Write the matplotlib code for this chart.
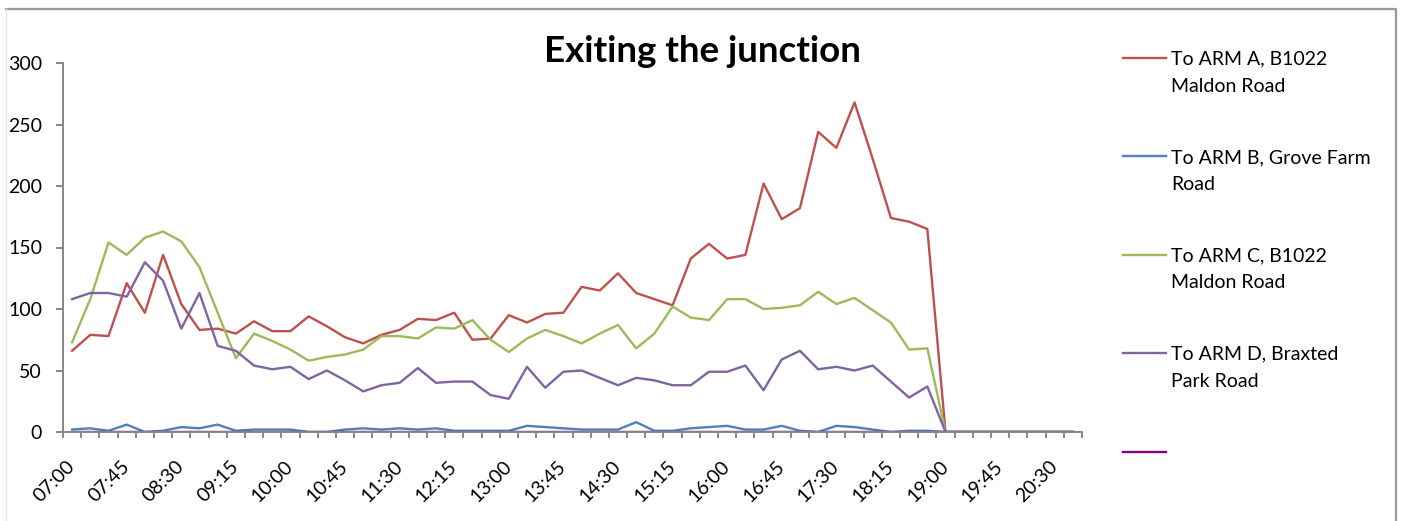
import matplotlib.pyplot as plt
import matplotlib.transforms as mtransforms
import numpy as np
from matplotlib.lines import Line2D

plt.rcParams["font.family"] = ["Lato", "DejaVu Sans"]

# 15-minute periods, 07:00 .. 20:45
times = ["%02d:%02d" % (7 + (i * 15) // 60, (i * 15) % 60) for i in range(56)]

arm_a = [66, 79, 78, 121, 97, 144, 104, 83, 84, 80, 90, 82, 82, 94, 86, 77,
         72, 79, 83, 92, 91, 97, 75, 76, 95, 89, 96, 97, 118, 115, 129, 113,
         108, 103, 141, 153, 141, 144, 202, 173, 182, 244, 231, 268, 222, 174,
         171, 165] + [0] * 8
arm_b = [2, 3, 1, 6, 0, 1, 4, 3, 6, 1, 2, 2, 2, 0, 0, 2,
         3, 2, 3, 2, 3, 1, 1, 1, 1, 5, 4, 3, 2, 2, 2, 8,
         1, 1, 3, 4, 5, 2, 2, 5, 1, 0, 5, 4, 2, 0,
         1, 1] + [0] * 8
arm_c = [73, 108, 154, 144, 158, 163, 155, 134, 97, 60, 80, 74, 67, 58, 61, 63,
         67, 78, 78, 76, 85, 84, 91, 75, 65, 76, 83, 78, 72, 80, 87, 68,
         80, 102, 93, 91, 108, 108, 100, 101, 103, 114, 104, 109, 99, 89,
         67, 68] + [0] * 8
arm_d = [108, 113, 113, 110, 138, 123, 84, 113, 70, 66, 54, 51, 53, 43, 50, 42,
         33, 38, 40, 52, 40, 41, 41, 30, 27, 53, 36, 49, 50, 44, 38, 44,
         42, 38, 38, 49, 49, 54, 34, 59, 66, 51, 53, 50, 54, 41,
         28, 37] + [0] * 8
blank = [0] * 56

series = [
    ("To ARM A, B1022\nMaldon Road", arm_a, "#C0504D"),
    ("To ARM B, Grove Farm\nRoad", arm_b, "#4F81BD"),
    ("To ARM C, B1022\nMaldon Road", arm_c, "#9BBB59"),
    ("To ARM D, Braxted\nPark Road", arm_d, "#8064A2"),
    ("", blank, "#800080"),
]

W, H = 1405, 521
fig = plt.figure(figsize=(W / 100, H / 100), dpi=100)


def fx(px):
    return px / W


def fy(py):
    return 1 - py / H


# chart area border (bottom edge is off the picture)
fig.add_artist(Line2D([fx(6), fx(1396), fx(1396)], [fy(9), fy(9), fy(530)],
                      transform=fig.transFigure, color="#9a9a9a", lw=1.6))
fig.add_artist(Line2D([fx(6), fx(6)], [fy(9), fy(530)],
                      transform=fig.transFigure, color="#e4e4e4", lw=1.0))

ax = fig.add_axes([fx(63), fy(432), fx(1082) - fx(63), fy(63) - fy(432)])
x = np.arange(len(times))
for label, vals, color in series:
    ax.plot(x, vals, color=color, lw=1.7)

ax.set_xlim(-0.5, len(times) - 0.5)
ax.set_ylim(0, 300)
ax.set_yticks(range(0, 301, 50))
ax.set_xticks(x[::3])
ax.set_xticklabels(times[::3], rotation=45, ha="right", va="center",
                   rotation_mode="anchor")
shift = mtransforms.ScaledTranslation(3 / 100, 0, fig.dpi_scale_trans)
for t in ax.get_xticklabels():
    t.set_transform(t.get_transform() + shift)
ax.set_xticks(np.arange(-0.5, len(times), 1), minor=True)
ax.tick_params(axis="x", which="major", length=0, pad=23, labelsize=14)
ax.tick_params(axis="x", which="minor", length=4.5, width=1.4, color="#868686")
ax.tick_params(axis="y", length=5, width=1.4, color="#868686", pad=10,
               labelsize=14)
for s in ["top", "right"]:
    ax.spines[s].set_visible(False)
for s in ["left", "bottom"]:
    ax.spines[s].set_color("#868686")
    ax.spines[s].set_linewidth(1.4)

fig.text(fx(702), fy(62), "Exiting the junction", ha="center", va="baseline",
         fontsize=26.5, fontweight="bold")

# legend, one entry per series
for k, (label, vals, color) in enumerate(series):
    ly = 58 + k * 98.4
    fig.add_artist(Line2D([fx(1123), fx(1166)], [fy(ly), fy(ly)],
                          transform=fig.transFigure, color=color, lw=1.7))
    for j, line in enumerate(label.split("\n")):
        fig.text(fx(1171), fy(ly + 6.5 + 27 * j), line, ha="left",
                 va="baseline", fontsize=14)

fig.savefig("out.png", dpi=100)
